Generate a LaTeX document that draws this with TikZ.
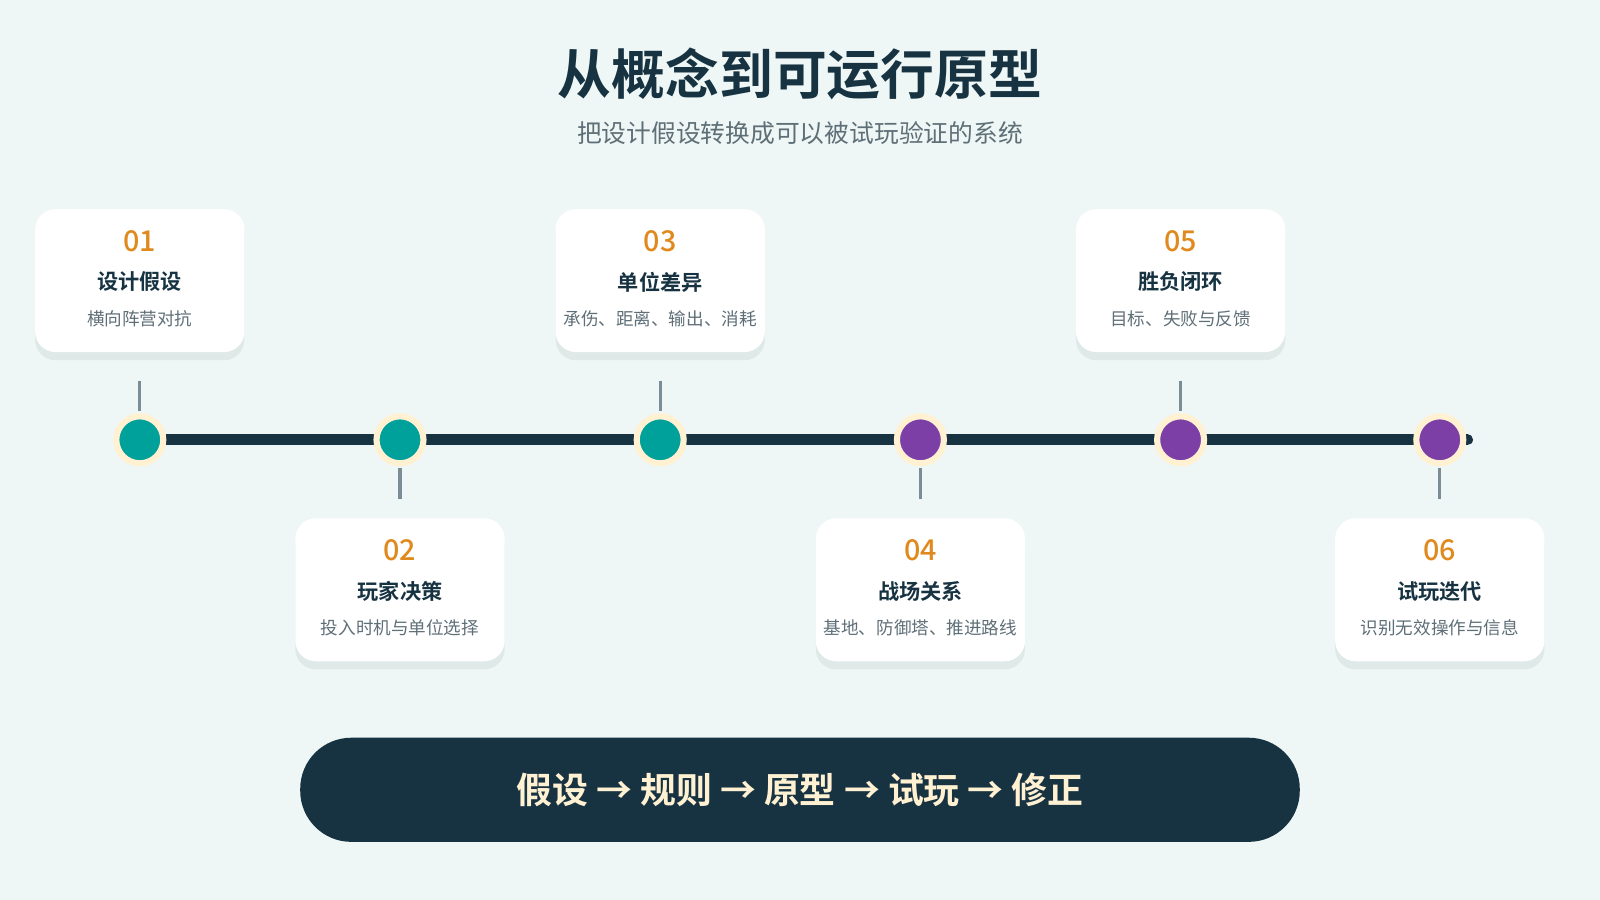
\documentclass[tikz,border=0pt]{standalone}
\usepackage{fontspec}
\setmainfont{Noto Sans CJK SC}
\newfontfamily\cjkb{Noto Sans CJK SC Bold}
\newfontfamily\cjkm{Noto Sans CJK SC Medium}
\usetikzlibrary{positioning,shadows}
\definecolor{bgColor}{HTML}{EEF7F5}
\definecolor{darkColor}{HTML}{173342}
\definecolor{numColor}{HTML}{E08A1E}
\definecolor{tealColor}{HTML}{00A19A}
\definecolor{purpColor}{HTML}{7B3FA6}
\definecolor{ringColor}{HTML}{FFF1D2}
\definecolor{stemColor}{HTML}{7A8C96}
\definecolor{subColor}{HTML}{5F6F78}
\tikzset{
	card/.style={fill=white, rounded corners=2mm, minimum width=2.05cm, minimum height=1.4cm,
		drop shadow={shadow xshift=0pt, shadow yshift=-0.8mm, opacity=0.07, fill=darkColor}},
	stem/.style={draw=stemColor, line width=0.3mm},
	dot/.style={circle, fill=#1, draw=ringColor, line width=0.6mm, minimum size=0.46cm, inner sep=0},
}
\newcommand{\stepcard}[5]{%
	\node[card] (c#1) at (#2, #3) {};
	\node[text=numColor, font=\cjkm\fontsize{8}{9}\selectfont] at ([yshift=-0.32cm]c#1.north) {#1};
	\node[text=darkColor, font=\cjkb\fontsize{5.9}{7}\selectfont] at ([yshift=-0.72cm]c#1.north) {#4};
	\node[text=subColor, font=\fontsize{4.9}{6}\selectfont] at ([yshift=-1.08cm]c#1.north) {#5};
}
\begin{document}
\begin{tikzpicture}[x=0.01cm, y=-0.01cm]
	\fill[bgColor] (0,0) rectangle (1568,882);
	\node[text=darkColor, font=\cjkb\fontsize{15}{18}\selectfont] (title) at (784,72) {从概念到可运行原型};
	\node[text=subColor, font=\fontsize{6.9}{8}\selectfont] (sub) at (784,130) {把设计假设转换成可以被试玩验证的系统};

	% timeline
	\draw[darkColor, line width=1.1mm, line cap=round] (137,431) -- (1438,431);
	\stepcard{01}{137}{275}{设计假设}{横向阵营对抗}
	\stepcard{02}{392}{578}{玩家决策}{投入时机与单位选择}
	\stepcard{03}{647}{275}{单位差异}{承伤、距离、输出、消耗}
	\stepcard{04}{902}{578}{战场关系}{基地、防御塔、推进路线}
	\stepcard{05}{1157}{275}{胜负闭环}{目标、失败与反馈}
	\stepcard{06}{1411}{578}{试玩迭代}{识别无效操作与信息}
	\foreach \x in {137,647,1157} \draw[stem] (\x,373) -- (\x,403);
	\foreach \x in {392,902,1411} \draw[stem] (\x,459) -- (\x,489);
	\foreach \x/\c in {137/tealColor,392/tealColor,647/tealColor,902/purpColor,1157/purpColor,1411/purpColor}
		\node[dot=\c] (d\x) at (\x,431) {};

	% bottom banner
	\node[fill=darkColor, rounded corners=5mm, minimum width=9.79cm, minimum height=1.02cm,
		text=ringColor, font=\cjkb\fontsize{10}{12}\selectfont] (flow) at (784,774)
		{假设 → 规则 → 原型 → 试玩 → 修正};
\end{tikzpicture}
\end{document}
